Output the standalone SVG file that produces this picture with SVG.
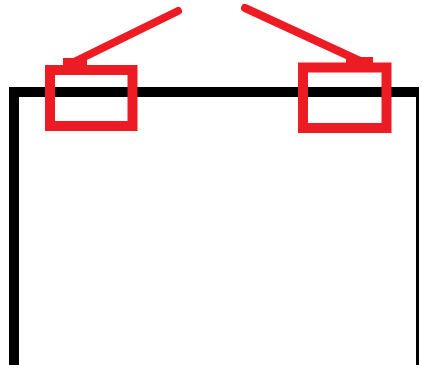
<svg xmlns="http://www.w3.org/2000/svg" width="422" height="365" viewBox="0 0 422 365">
<style>
.frame{fill:none;stroke:#000;stroke-linecap:butt;stroke-linejoin:miter}
.box{fill:none;stroke:#ed1c24;stroke-width:10}
.ptr{stroke:#ed1c24;stroke-width:8;stroke-linecap:round;fill:none}
.tab{fill:#ed1c24}
</style>
<rect width="422" height="365" fill="#fff"/>
<g id="frame">
<path class="frame" stroke-width="10" d="M14 365 V92 H419"/>
<path class="frame" stroke-width="3" d="M417.5 87 V365"/>
</g>
<g id="connectors">
<line class="ptr" x1="178" y1="11" x2="74" y2="62"/>
<line class="ptr" x1="245" y1="8" x2="360" y2="61"/>
<rect class="tab" x="63" y="58" width="24" height="8"/>
<rect class="tab" x="346" y="57" width="27" height="8"/>
</g>
<g id="box-left">
<rect class="box" x="50" y="70" width="82.5" height="56"/>
</g>
<g id="box-right">
<rect class="box" x="303" y="67.5" width="83.5" height="60.5"/>
</g>
</svg>
